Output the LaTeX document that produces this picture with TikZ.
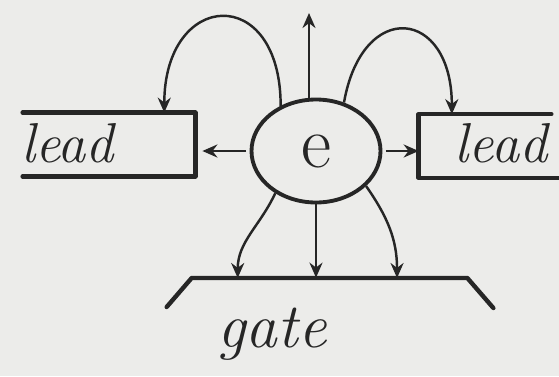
\documentclass[tikz,border=0pt]{standalone}
\usepackage{tikz}
\usetikzlibrary{arrows.meta,calc,shapes.geometric}
\definecolor{pencil}{RGB}{38,38,38}
\definecolor{paper}{RGB}{236,236,234}

\begin{document}
\begin{tikzpicture}[
      pencil,
      hand/.style={font=\fontsize{32}{38}\selectfont\itshape, inner sep=0pt},
      leadbox/.style={minimum height=1.26cm, inner sep=0pt},
      dot/.style={draw, ellipse, line width=2.2pt, inner sep=0pt,
        minimum width=2.58cm, minimum height=2.06cm,
        font=\fontsize{42}{48}\selectfont},
      wall/.style={line width=2.5pt, line cap=round, line join=round},
      arr/.style={-{Stealth[length=3mm, width=2.6mm]}, line width=1.4pt}
    ]
    \useasboundingbox (0,0) rectangle (11.18,7.52);
    \fill[paper] (0,0) rectangle (11.18,7.52);

    \node[dot] (e) at (6.32,4.50) {e};
    \node[leadbox, minimum width=3.44cm] (leadL) at (2.18,4.63) {};
    \node[leadbox, minimum width=2.64cm] (leadR) at (9.70,4.60) {};
    \node[inner sep=0pt, minimum width=5.5cm, minimum height=0pt] (gate) at (6.59,1.96) {};
    \coordinate (sky) at (6.18,7.26);

    \node[hand, anchor=base] (leadLtxt) at (1.35,4.28) {lead};
    \node[hand, anchor=base] (leadRtxt) at (10.02,4.28) {lead};
    \node[hand, font=\fontsize{36}{42}\selectfont\itshape, anchor=base] (gatetxt) at (5.44,0.58) {gate};

    \draw[wall] (leadL.north west) -- (leadL.north east) -- (leadL.south east) -- (leadL.south west);
    \draw[wall] (leadR.north east) -- (leadR.north west) -- (leadR.south west) -- ($(leadR.south east)+(0.16,0)$);
    \draw[wall] ($(gate.west)+(-0.5,-0.58)$) -- (gate.west) -- (gate.east) -- ++(0.52,-0.6);

    \draw[arr] (e.north -| sky) -- (sky);
    \draw[arr] (e.128) to[out=90, in=90, looseness=2.7] ($(leadL.north west)!0.82!(leadL.north east)$);
    \draw[arr] (e.60) to[out=80, in=90, looseness=2.5] ($(leadR.north west)!0.25!(leadR.north east)$);
    \draw[arr, shorten <=2pt, shorten >=4pt] (e.west) -- (e.west -| leadL.east);
    \draw[arr, shorten <=2pt] (e.east) -- (e.east -| leadR.west);

    \draw[arr] (e.-134) to[out=-115, in=90] ($(gate.west)!0.167!(gate.east)$);
    \draw[arr] (e.south) -- (e.south |- gate.north);
    \draw[arr] (e.-35) to[out=-55, in=90] ($(gate.west)!0.745!(gate.east)$);
  \end{tikzpicture}
\end{document}
